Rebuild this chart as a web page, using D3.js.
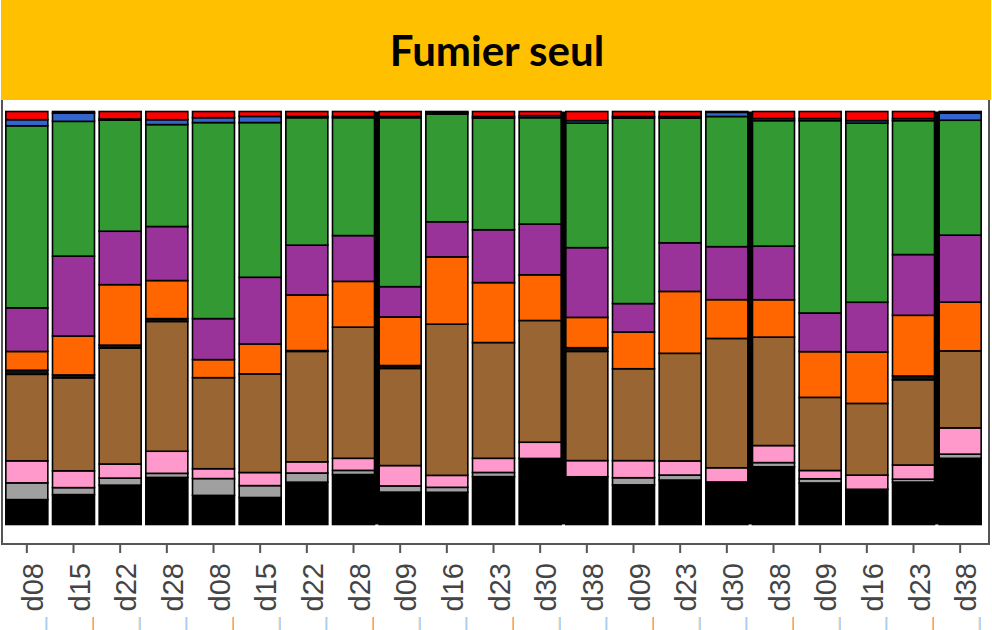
<!DOCTYPE html>
<html>
<head>
<meta charset="utf-8">
<script src="https://cdn.jsdelivr.net/npm/d3@7"></script>
<style>
  body { margin: 0; background: #fff; }
  svg { display: block; }
</style>
</head>
<body>
<div id="chart"></div>
<script>
// sample days (x axis, left to right)
const labels = ["d08","d15","d22","d28","d08","d15","d22","d28","d09","d16","d23",
                "d30","d38","d09","d23","d30","d38","d09","d16","d23","d38"];

// relative abundances (%), one array per group, stacked bottom -> top
const noir      = [6.1,7.3,9.5,11.5,7.1,6.6,10.2,12.0,7.8,7.8,11.5,15.9,11.5,9.5,10.7,10.2,13.9,10.0,8.5,10.2,15.9];
const gris      = [4.1,1.7,1.7,1.0,4.1,2.9,2.2,1.0,1.5,1.2,1.0,0,0,1.7,1.2,0,1.0,1.0,0,0.7,1.0];
const rose      = [5.4,4.1,3.4,5.4,2.4,3.2,2.7,2.9,4.9,2.9,3.4,3.9,3.9,4.1,3.4,3.4,4.1,2.0,3.4,3.4,6.3];
const brun      = [21.2,22.7,28.0,31.7,22.2,24.1,26.6,31.5,23.4,36.6,27.8,29.3,26.3,22.0,25.9,31.0,26.1,17.6,17.3,20.5,18.5];
const sombre    = [1.0,0.7,0.7,0.7,0,0,0.2,0,0.7,0,0,0,0.9,0,0,0,0,0,0,0.9,0];
const orange    = [4.6,9.5,14.6,9.3,4.4,7.3,13.4,11.0,11.7,16.3,14.4,11.0,7.3,8.8,14.9,9.3,9.0,11.0,12.4,14.6,11.7];
const violet    = [10.7,19.5,12.9,13.2,10.0,16.3,12.0,11.0,7.3,8.5,12.7,12.2,16.8,6.8,11.7,12.7,12.9,9.3,12.0,14.6,16.1];
const vert      = [44.6,32.9,26.8,24.9,47.8,37.8,30.7,28.3,40.7,26.1,26.8,25.6,30.0,44.4,30.0,31.2,30.2,46.3,43.2,32.2,27.6];
const bleu      = [1.5,2.0,0.3,1.2,1.2,1.5,0.3,0.3,0.3,0.4,0.4,0.5,0.6,0.4,0.4,1.0,0.5,0.5,0.6,0.5,1.7];
const rouge     = [2.0,0.4,1.8,2.0,1.5,1.2,1.2,1.2,1.2,0.2,1.2,1.0,2.2,1.2,1.2,0.2,1.7,1.7,2.2,1.7,0.4];

const keys = ["noir","gris","rose","brun","sombre","orange","violet","vert","bleu","rouge"];
const series = {noir, gris, rose, brun, sombre, orange, violet, vert, bleu, rouge};
const colors = ["#000000","#a0a0a0","#ff99cc","#996633","#111111","#ff6600","#993399","#339933","#3366cc","#ff0000"];

// bars drawn touching their right neighbour (no white gap)
const joined = [7, 11, 15, 19];

const width = 992;
const height = 630;

const rows = labels.map((l, i) => {
  const r = {idx: i};
  keys.forEach(k => r[k] = series[k][i]);
  return r;
});

const svg = d3.select("div#chart").append("svg")
    .attr("width", width)
    .attr("height", height);

// scales
const xScale = d3.scaleBand()
    .domain(d3.range(labels.length))
    .range([3.5, 983.5])
    .paddingInner(0.1)
    .paddingOuter(0.05);

const yScale = d3.scaleLinear().domain([0, 1]).range([524.5, 111.5]);

const color = d3.scaleOrdinal().domain(keys).range(colors);

const stacked = d3.stack()
    .keys(keys)
    .offset(d3.stackOffsetExpand)(rows);

// plot box
svg.append("path")
    .attr("d", "M2,90 V544 H989 V90")
    .attr("fill", "none")
    .attr("stroke", "#555")
    .attr("stroke-width", 2);

// fill the gap for joined bars
svg.append("g")
  .selectAll("rect")
  .data(joined)
  .join("rect")
    .attr("x", i => xScale(i) + xScale.bandwidth())
    .attr("width", xScale.step() - xScale.bandwidth())
    .attr("y", yScale(1))
    .attr("height", yScale(0) - yScale(1))
    .attr("fill", "#000");

// bars
svg.append("g")
  .selectAll("g")
  .data(stacked)
  .join("g")
    .attr("fill", d => color(d.key))
  .selectAll("rect")
  .data(d => d)
  .join("rect")
    .attr("x", d => xScale(d.data.idx))
    .attr("width", xScale.bandwidth())
    .attr("y", d => yScale(d[1]))
    .attr("height", d => yScale(d[0]) - yScale(d[1]))
    .attr("stroke", "#000")
    .attr("stroke-width", 1.6);

// x axis
const xaxis = d3.axisBottom(xScale)
    .tickSize(8)
    .tickFormat(i => labels[i]);

const gx = svg.append("g")
    .attr("transform", "translate(0,545)")
    .call(xaxis);

gx.select(".domain").remove();
gx.selectAll(".tick line").attr("stroke", "#555").attr("stroke-width", 2);
gx.selectAll(".tick text")
    .attr("transform", "rotate(-90)")
    .attr("x", -18)
    .attr("y", 16)
    .attr("dy", 0)
    .attr("text-anchor", "end")
    .attr("fill", "#444")
    .style("font-family", "'Liberation Sans', Arial, sans-serif")
    .style("font-size", "29px");

// little separators below the labels
const sep = svg.append("g");
sep.selectAll("line.o")
  .data(d3.range(labels.length))
  .join("line")
    .attr("class", "o")
    .attr("x1", i => xScale(i) + xScale.bandwidth() - 2)
    .attr("x2", i => xScale(i) + xScale.bandwidth() - 2)
    .attr("y1", 617).attr("y2", 630)
    .attr("stroke", "#ffc080").attr("stroke-width", 1);
sep.selectAll("line.b")
  .data(d3.range(labels.length))
  .join("line")
    .attr("class", "b")
    .attr("x1", i => xScale(i) + xScale.bandwidth() - 1)
    .attr("x2", i => xScale(i) + xScale.bandwidth() - 1)
    .attr("y1", 617).attr("y2", 630)
    .attr("stroke", "#80c0ff").attr("stroke-width", 1);

// title banner
svg.append("rect")
    .attr("x", 1).attr("y", 0)
    .attr("width", 990).attr("height", 100)
    .attr("fill", "#ffc000");

svg.append("text")
    .attr("x", 497)
    .attr("y", 66)
    .attr("text-anchor", "middle")
    .style("font-family", "Lato, 'Liberation Sans', sans-serif")
    .style("font-weight", "bold")
    .style("font-size", "42px")
    .text("Fumier seul");
</script>
</body>
</html>
